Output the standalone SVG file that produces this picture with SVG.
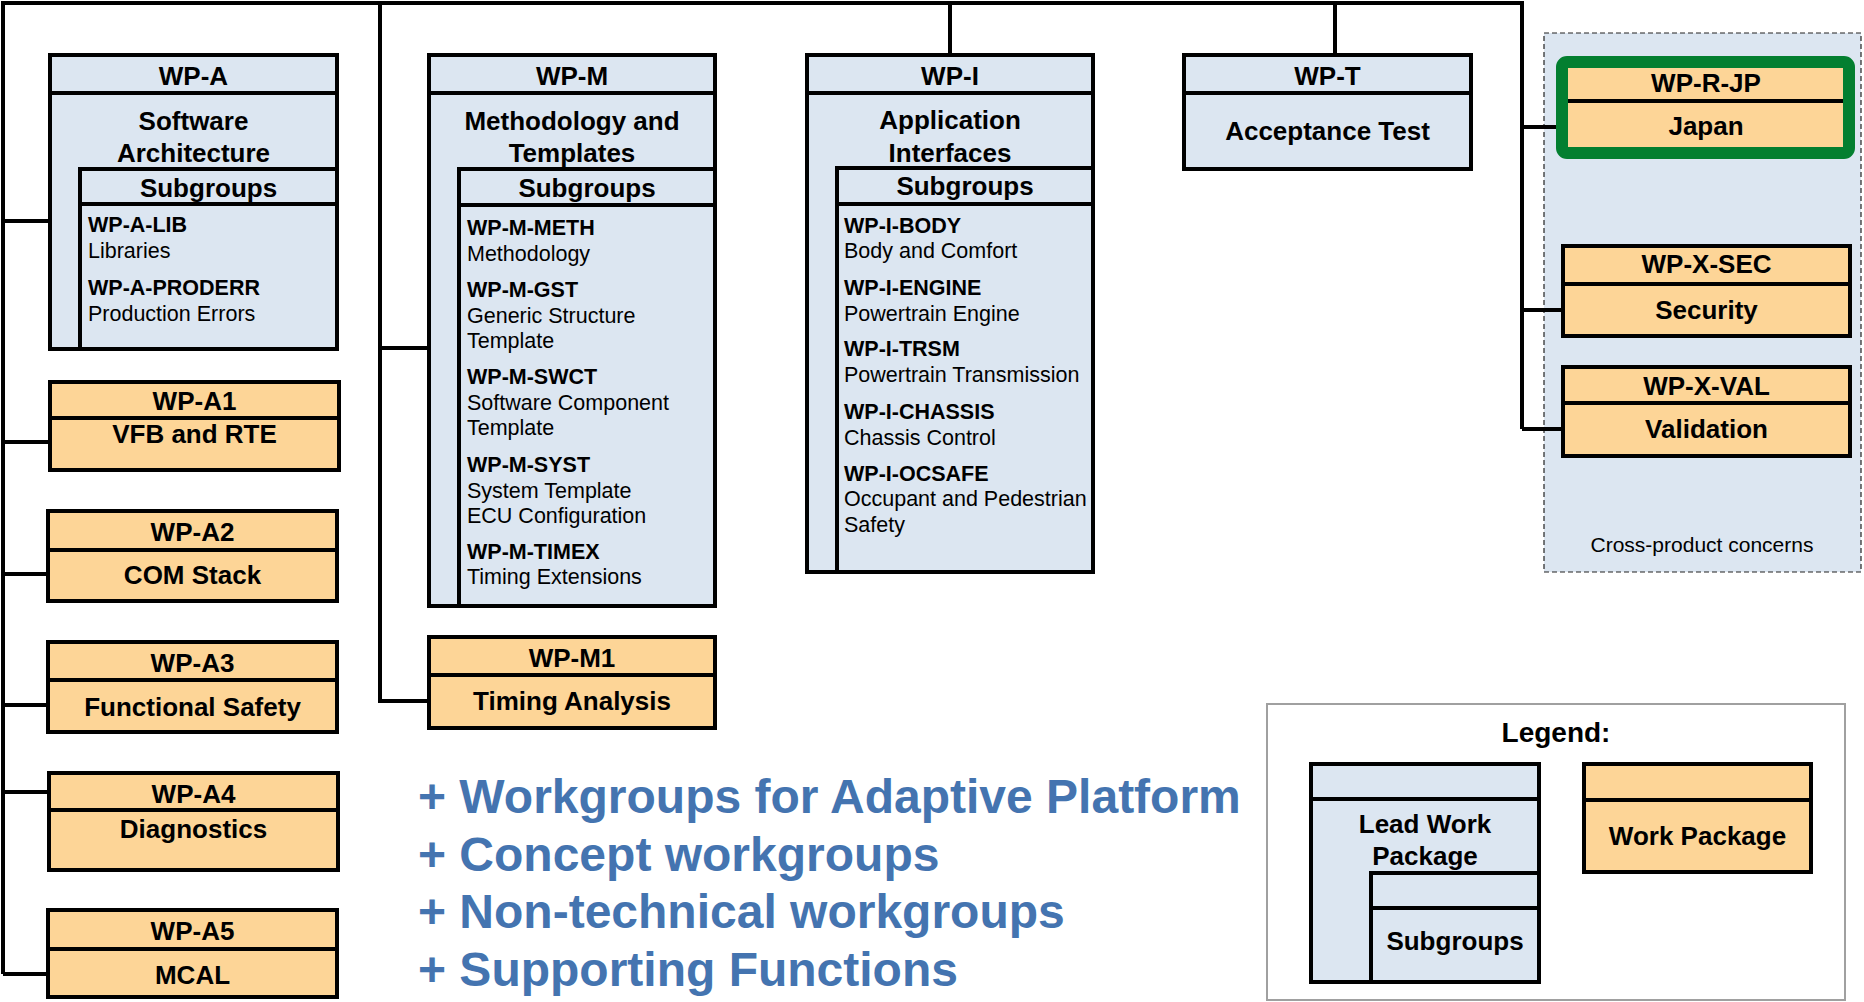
<svg xmlns="http://www.w3.org/2000/svg" width="1864" height="1002" viewBox="0 0 1864 1002">
<style>
.lead{fill:#dce6f1;stroke:#000;stroke-width:4}
.wp{fill:#fdd597;stroke:#000;stroke-width:4}
.div{stroke:#000;stroke-width:4;fill:none}
.con{stroke:#000;stroke-width:4;fill:none}
text{font-family:"Liberation Sans",Arial,sans-serif;fill:#000}
.h{font-size:26px;font-weight:bold;text-anchor:middle}
.it{font-size:21.5px;font-weight:bold}
.d{font-size:21.5px}
.blue{font-size:48px;font-weight:bold;fill:#4474b0}
</style>
<rect width="1864" height="1002" fill="#fff"/>
<g id="cross-product">
<rect x="1544" y="33" width="317" height="539" fill="#dce6f1" stroke="#222" stroke-width="1.2" stroke-dasharray="5,3"/>
<text x="1702" y="552" font-size="21px" text-anchor="middle">Cross-product concerns</text>
</g>
<g id="connectors">
<path class="con" d="M3,974 V3 H1522 V429"/>
<path class="con" d="M3,221 H50 M3,442 H50 M3,574 H48 M3,705 H48 M3,792 H49 M3,974 H48"/>
<path class="con" d="M380,3 V701 H429 M380,348 H429"/>
<path class="con" d="M950,3 V55 M1335,3 V55"/>
<path class="con" d="M1522,127 H1556 M1522,310 H1563 M1522,429 H1563"/>
</g>
<g id="wp-a">
<rect class="lead" x="50" y="55" width="287" height="294"/>
<line class="div" x1="50" y1="93" x2="337" y2="93"/>
<rect class="lead" x="80" y="169" width="257" height="180"/>
<line class="div" x1="80" y1="204" x2="337" y2="204"/>
<text class="h" x="193.5" y="85">WP-A</text>
<text class="h" x="193.5" y="130">Software</text>
<text class="h" x="193.5" y="162">Architecture</text>
<text class="h" x="208.5" y="197">Subgroups</text>
<text class="it" x="88" y="232">WP-A-LIB</text>
<text class="d" x="88" y="258">Libraries</text>
<text class="it" x="88" y="295">WP-A-PRODERR</text>
<text class="d" x="88" y="321">Production Errors</text>
</g>
<g id="wp-m">
<rect class="lead" x="429" y="55" width="286" height="551"/>
<line class="div" x1="429" y1="93" x2="715" y2="93"/>
<rect class="lead" x="459" y="169" width="256" height="437"/>
<line class="div" x1="459" y1="205" x2="715" y2="205"/>
<text class="h" x="572" y="85">WP-M</text>
<text class="h" x="572" y="130">Methodology and</text>
<text class="h" x="572" y="162">Templates</text>
<text class="h" x="587" y="197">Subgroups</text>
<text class="it" x="467" y="235">WP-M-METH</text>
<text class="d" x="467" y="261">Methodology</text>
<text class="it" x="467" y="297">WP-M-GST</text>
<text class="d" x="467" y="323">Generic Structure</text>
<text class="d" x="467" y="348">Template</text>
<text class="it" x="467" y="384">WP-M-SWCT</text>
<text class="d" x="467" y="410">Software Component</text>
<text class="d" x="467" y="435">Template</text>
<text class="it" x="467" y="472">WP-M-SYST</text>
<text class="d" x="467" y="498">System Template</text>
<text class="d" x="467" y="523">ECU Configuration</text>
<text class="it" x="467" y="559">WP-M-TIMEX</text>
<text class="d" x="467" y="584">Timing Extensions</text>
</g>
<g id="wp-i">
<rect class="lead" x="807" y="55" width="286" height="517"/>
<line class="div" x1="807" y1="93" x2="1093" y2="93"/>
<rect class="lead" x="837" y="168" width="256" height="404"/>
<line class="div" x1="837" y1="204" x2="1093" y2="204"/>
<text class="h" x="950" y="85">WP-I</text>
<text class="h" x="950" y="129">Application</text>
<text class="h" x="950" y="162">Interfaces</text>
<text class="h" x="965" y="195">Subgroups</text>
<text class="it" x="844" y="233">WP-I-BODY</text>
<text class="d" x="844" y="258">Body and Comfort</text>
<text class="it" x="844" y="295">WP-I-ENGINE</text>
<text class="d" x="844" y="321">Powertrain Engine</text>
<text class="it" x="844" y="356">WP-I-TRSM</text>
<text class="d" x="844" y="382">Powertrain Transmission</text>
<text class="it" x="844" y="419">WP-I-CHASSIS</text>
<text class="d" x="844" y="445">Chassis Control</text>
<text class="it" x="844" y="481">WP-I-OCSAFE</text>
<text class="d" x="844" y="506">Occupant and Pedestrian</text>
<text class="d" x="844" y="532">Safety</text>
</g>
<g id="wp-t">
<rect class="lead" x="1184" y="55" width="287" height="114"/>
<line class="div" x1="1184" y1="93" x2="1471" y2="93"/>
<text class="h" x="1327.5" y="85">WP-T</text>
<text class="h" x="1327.5" y="140">Acceptance Test</text>
</g>
<g id="wp-a1">
<rect class="wp" x="50" y="382" width="289" height="88"/>
<line class="div" x1="50" y1="418" x2="339" y2="418"/>
<text class="h" x="194.5" y="410">WP-A1</text>
<text class="h" x="194.5" y="443">VFB and RTE</text>
</g>
<g id="wp-a2">
<rect class="wp" x="48" y="511" width="289" height="90"/>
<line class="div" x1="48" y1="550" x2="337" y2="550"/>
<text class="h" x="192.5" y="541">WP-A2</text>
<text class="h" x="192.5" y="584">COM Stack</text>
</g>
<g id="wp-a3">
<rect class="wp" x="48" y="642" width="289" height="90"/>
<line class="div" x1="48" y1="680" x2="337" y2="680"/>
<text class="h" x="192.5" y="672">WP-A3</text>
<text class="h" x="192.5" y="716">Functional Safety</text>
</g>
<g id="wp-a4">
<rect class="wp" x="49" y="773" width="289" height="97"/>
<line class="div" x1="49" y1="810" x2="338" y2="810"/>
<text class="h" x="193.5" y="803">WP-A4</text>
<text class="h" x="193.5" y="838">Diagnostics</text>
</g>
<g id="wp-a5">
<rect class="wp" x="48" y="910" width="289" height="87"/>
<line class="div" x1="48" y1="949" x2="337" y2="949"/>
<text class="h" x="192.5" y="940">WP-A5</text>
<text class="h" x="192.5" y="984">MCAL</text>
</g>
<g id="wp-m1">
<rect class="wp" x="429" y="637" width="286" height="91"/>
<line class="div" x1="429" y1="675" x2="715" y2="675"/>
<text class="h" x="572" y="667">WP-M1</text>
<text class="h" x="572" y="710">Timing Analysis</text>
</g>
<g id="wp-r-jp">
<rect x="1562" y="62" width="287" height="91" rx="5" fill="#fdd597" stroke="#037f30" stroke-width="12"/>
<line class="div" x1="1568" y1="101" x2="1843" y2="101"/>
<text class="h" x="1706" y="92">WP-R-JP</text>
<text class="h" x="1706" y="135">Japan</text>
</g>
<g id="wp-x-sec">
<rect class="wp" x="1563" y="246" width="287" height="90"/>
<line class="div" x1="1563" y1="284" x2="1850" y2="284"/>
<text class="h" x="1706.5" y="273">WP-X-SEC</text>
<text class="h" x="1706.5" y="319">Security</text>
</g>
<g id="wp-x-val">
<rect class="wp" x="1563" y="367" width="287" height="89"/>
<line class="div" x1="1563" y1="403" x2="1850" y2="403"/>
<text class="h" x="1706.5" y="395">WP-X-VAL</text>
<text class="h" x="1706.5" y="438">Validation</text>
</g>
<g id="notes">
<text class="blue" x="418" y="813">+ Workgroups for Adaptive Platform</text>
<text class="blue" x="418" y="871">+ Concept workgroups</text>
<text class="blue" x="418" y="928">+ Non-technical workgroups</text>
<text class="blue" x="418" y="986">+ Supporting Functions</text>
</g>
<g id="legend">
<rect x="1267" y="704" width="578" height="296" fill="#fff" stroke="#a0a0a0" stroke-width="2"/>
<text x="1556" y="742" font-size="28px" font-weight="bold" text-anchor="middle">Legend:</text>
<rect class="lead" x="1311" y="764" width="228" height="218"/>
<line class="div" x1="1311" y1="799" x2="1539" y2="799"/>
<rect class="lead" x="1371" y="873" width="168" height="109"/>
<line class="div" x1="1371" y1="908" x2="1539" y2="908"/>
<text class="h" x="1425" y="833">Lead Work</text>
<text class="h" x="1425" y="865">Package</text>
<text class="h" x="1455" y="950">Subgroups</text>
<rect class="wp" x="1584" y="764" width="227" height="108"/>
<line class="div" x1="1584" y1="800" x2="1811" y2="800"/>
<text class="h" x="1697.5" y="845">Work Package</text>
</g>
</svg>
